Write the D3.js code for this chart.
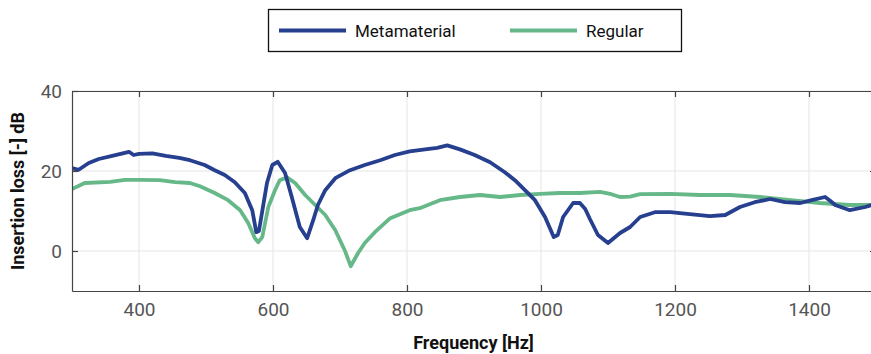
<!DOCTYPE html>
<html lang="en">
<head>
  <meta charset="UTF-8">
  <title>Insertion loss</title>
  <script src="https://d3js.org/d3.v7.min.js"></script>
  <style>
    body { margin: 0; background: #fff; }
    svg { display: block; font-family: Roboto, "Liberation Sans", sans-serif; }
  </style>
</head>
<body>
  <div id="chart"></div>

  <script>
    // Metamaterial curve (frequency in Hz, insertion loss in dB)
    const metaFreq = [300, 310, 325, 340, 360, 385, 392, 400, 420, 440, 460, 476, 498, 513, 528, 543, 558, 569, 575, 579,
      584, 591, 599, 607, 618, 628, 640, 651, 660, 667, 678, 693, 715, 737, 760, 782, 804, 827, 845, 860,
      879, 901, 924, 946, 961, 976, 991, 1006, 1019, 1025, 1033, 1048, 1058, 1066, 1073, 1085, 1100, 1118, 1133, 1148,
      1170, 1193, 1222, 1252, 1275, 1297, 1319, 1342, 1364, 1387, 1404, 1424, 1432, 1439, 1461, 1484, 1500];
    const metaLoss = [20.7, 20.3, 22, 23, 23.8, 24.8, 24, 24.3, 24.4, 23.8, 23.3, 22.7, 21.5, 20.2, 19, 17.2, 14.5, 10.2, 4.7, 5,
      10, 17, 21.5, 22.3, 19.5, 13.5, 6, 3.2, 7.7, 11.5, 15.2, 18.2, 20.2, 21.5, 22.7, 24, 24.9, 25.4, 25.8, 26.4,
      25.4, 24, 22.2, 19.7, 17.7, 15.2, 12.7, 8.5, 3.5, 4, 8.5, 12, 12, 10.5, 8, 4, 2, 4.5, 6, 8.5,
      9.7, 9.7, 9.2, 8.7, 9, 11, 12.2, 13, 12.2, 12, 12.7, 13.5, 12.5, 11.5, 10.2, 11, 11.8];

    // Regular curve
    const regFreq = [300, 319, 357, 379, 400, 431, 454, 476, 491, 513, 533, 551, 563, 573, 578, 584, 593, 603, 610, 621,
      633, 648, 663, 678, 693, 707, 716, 727, 737, 752, 775, 804, 819, 849, 879, 909, 939, 969, 999, 1028,
      1058, 1088, 1105, 1118, 1133, 1148, 1193, 1237, 1282, 1327, 1373, 1416, 1461, 1500];
    const regLoss = [15.5, 17, 17.3, 17.8, 17.8, 17.7, 17.2, 17, 16.2, 14.5, 12.7, 10.2, 7, 3.2, 2.2, 3.5, 11, 15.2, 17.7, 18.4,
      17, 14, 11.5, 9, 5.2, 0.2, -3.8, -0.5, 2, 4.7, 8.2, 10.2, 10.7, 12.7, 13.5, 14, 13.5, 14, 14.3, 14.5,
      14.5, 14.8, 14.2, 13.5, 13.6, 14.2, 14.3, 14, 14, 13.5, 12.7, 12, 11.5, 11.5];

    const xTicks = [400, 600, 800, 1000, 1200, 1400];
    const yTicks = [0, 20, 40];
    const seriesNames = ['Metamaterial', 'Regular'];

    const width = 871, height = 354;
    const margin = { top: 91, right: -5, bottom: 63, left: 72 };
    const blue = '#263f8f', green = '#66b888';

    const svg = d3.select('#chart').append('svg')
      .attr('width', width)
      .attr('height', height);

    const x = d3.scaleLinear().domain([300, 1500]).range([margin.left, width - margin.right]);
    const y = d3.scaleLinear().domain([-10, 40]).range([height - margin.bottom, margin.top]);

    // grid
    svg.append('g').selectAll('line').data(xTicks).join('line')
      .attr('x1', d => x(d)).attr('x2', d => x(d))
      .attr('y1', y(40)).attr('y2', y(-10))
      .attr('stroke', '#e5e5e5').attr('stroke-width', 1);
    svg.append('g').selectAll('line').data(yTicks).join('line')
      .attr('x1', x(300)).attr('x2', x(1500))
      .attr('y1', d => y(d)).attr('y2', d => y(d))
      .attr('stroke', '#e5e5e5').attr('stroke-width', 1);

    // clip for the curves
    svg.append('clipPath').attr('id', 'plotclip')
      .append('rect')
      .attr('x', x(300)).attr('y', y(40))
      .attr('width', x(1500) - x(300)).attr('height', y(-10) - y(40));

    const line = d3.line().x(d => x(d[0])).y(d => y(d[1]));
    const regData = d3.zip(regFreq, regLoss);
    const metaData = d3.zip(metaFreq, metaLoss);

    const curves = svg.append('g').attr('clip-path', 'url(#plotclip)');
    curves.append('path').datum(regData)
      .attr('d', line).attr('fill', 'none')
      .attr('stroke', green).attr('stroke-width', 3.8)
      .attr('stroke-linejoin', 'round');
    curves.append('path').datum(metaData)
      .attr('d', line).attr('fill', 'none')
      .attr('stroke', blue).attr('stroke-width', 3.8)
      .attr('stroke-linejoin', 'round');

    // axes (box with inward ticks)
    const axisColor = '#444';
    const tickLen = 6;
    const fmt = d3.format('d');
    const xBottom = svg.append('g').attr('transform', `translate(0,${y(-10)})`)
      .call(d3.axisBottom(x).tickValues(xTicks).tickFormat(fmt).tickSizeInner(-tickLen).tickSizeOuter(0).tickPadding(12));
    const xTop = svg.append('g').attr('transform', `translate(0,${y(40)})`)
      .call(d3.axisTop(x).tickValues(xTicks).tickSizeInner(-tickLen).tickSizeOuter(0).tickFormat(''));
    const yLeft = svg.append('g').attr('transform', `translate(${x(300)},0)`)
      .call(d3.axisLeft(y).tickValues(yTicks).tickFormat(fmt).tickSizeInner(-tickLen).tickSizeOuter(0).tickPadding(10));
    const yRight = svg.append('g').attr('transform', `translate(${x(1500)},0)`)
      .call(d3.axisRight(y).tickValues(yTicks).tickSizeInner(-tickLen).tickSizeOuter(0).tickFormat(''));

    [xBottom, xTop, yLeft, yRight].forEach(g => {
      g.select('.domain').attr('stroke', axisColor).attr('stroke-width', 1.2);
      g.selectAll('.tick line').attr('stroke', axisColor).attr('stroke-width', 1.2);
      g.selectAll('.tick text').attr('fill', '#555').attr('font-size', '19px')
        .attr('font-family', 'Roboto, sans-serif');
    });

    // axis titles
    svg.append('text')
      .attr('x', (x(300) + 871) / 2 + 2).attr('y', 349)
      .attr('text-anchor', 'middle')
      .attr('font-size', '18px').attr('font-weight', 'bold').attr('fill', '#111')
      .text('Frequency [Hz]');
    svg.append('text')
      .attr('transform', `translate(24,${(y(40) + y(-10)) / 2}) rotate(-90)`)
      .attr('text-anchor', 'middle')
      .attr('font-size', '18px').attr('font-weight', 'bold').attr('fill', '#111')
      .text('Insertion loss [-] dB');

    // legend
    const legend = svg.append('g');
    legend.append('rect')
      .attr('x', 268.5).attr('y', 9.5).attr('width', 413).attr('height', 42)
      .attr('fill', '#fff').attr('stroke', '#111').attr('stroke-width', 1.3);
    const legendItems = [
      { name: seriesNames[0], color: blue, x0: 279 },
      { name: seriesNames[1], color: green, x0: 510 }
    ];
    legendItems.forEach(it => {
      legend.append('line')
        .attr('x1', it.x0).attr('x2', it.x0 + 67)
        .attr('y1', 30.5).attr('y2', 30.5)
        .attr('stroke', it.color).attr('stroke-width', 3.8);
      legend.append('text')
        .attr('x', it.x0 + 76).attr('y', 36.5)
        .attr('font-size', '17px').attr('fill', '#111')
        .text(it.name);
    });
  </script>
</body>
</html>
